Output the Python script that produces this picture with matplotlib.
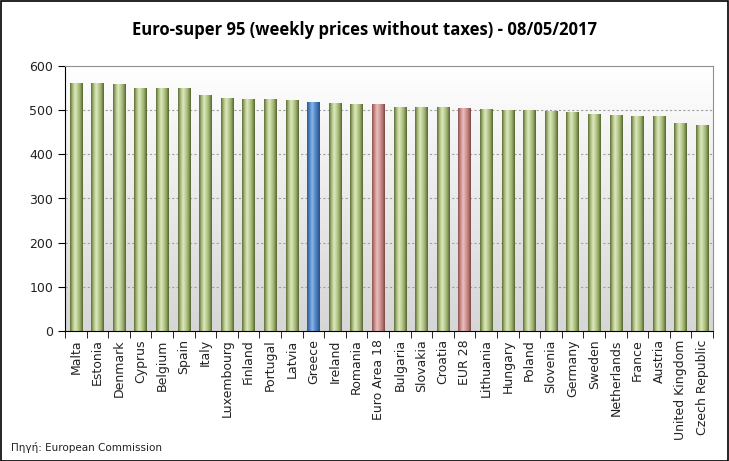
import numpy as np
import matplotlib.pyplot as plt
from matplotlib.colors import LinearSegmentedColormap
from matplotlib.patches import Rectangle

countries = ["Malta", "Estonia", "Denmark", "Cyprus", "Belgium", "Spain", "Italy",
             "Luxembourg", "Finland", "Portugal", "Latvia", "Greece", "Ireland",
             "Romania", "Euro Area 18", "Bulgaria", "Slovakia", "Croatia", "EUR 28",
             "Lithuania", "Hungary", "Poland", "Slovenia", "Germany", "Sweden",
             "Netherlands", "France", "Austria", "United Kingdom", "Czech Republic"]
prices = [561, 561, 559, 550, 550, 548, 534, 527, 524, 524, 522, 518, 514,
          512, 512, 507, 505, 505, 503, 502, 499, 499, 496, 494, 491,
          489, 486, 485, 469, 466]
highlight = {"Greece": "blue", "Euro Area 18": "red", "EUR 28": "red"}

# horizontal shading of the cylinder-like bars
cmaps = {
    "green": LinearSegmentedColormap.from_list("g", ["#5f6e38", "#a9bd7c", "#dde8c0", "#bccd92", "#93a866", "#56642f"]),
    "blue": LinearSegmentedColormap.from_list("b", ["#2c5a92", "#4f84c4", "#8fb6e6", "#5a8fcf", "#3f72b0", "#274f82"]),
    "red": LinearSegmentedColormap.from_list("r", ["#8d5452", "#c98c8a", "#ecc0be", "#d49c9a", "#b67977", "#7c4644"]),
}

W, H = 729, 461
fig = plt.figure(figsize=(W / 100, H / 100), dpi=100)
ax = fig.add_axes([65 / W, (H - 331) / H, (713 - 65) / W, (331 - 66) / H])

n = len(countries)
ax.set_xlim(-0.5, n - 0.5)
ax.set_ylim(0, 600)

# background gradient
bg = LinearSegmentedColormap.from_list("bg", ["#d6d6d6", "#ffffff"])
ax.imshow(np.linspace(0, 1, 256).reshape(-1, 1), cmap=bg, aspect="auto", origin="lower",
          extent=(0, 1, 0, 1), transform=ax.transAxes, zorder=0)

for y in [100, 200, 300, 400, 500]:
    ax.axhline(y, color="#a0a0a0", linewidth=0.8, linestyle=(0, (2, 2)), zorder=1)

grad = np.linspace(0, 1, 64).reshape(1, -1)
bw = 0.58
for i, (c, v) in enumerate(zip(countries, prices)):
    cm = cmaps[highlight.get(c, "green")]
    ax.imshow(grad, cmap=cm, aspect="auto", extent=(i - bw / 2, i + bw / 2, 0, v), zorder=2,
              interpolation="bilinear")

ax.set_xticks(np.arange(n))
ax.set_xticklabels(countries, rotation=90, fontsize=9, color="#222222")
ax.set_xticks(np.arange(n + 1) - 0.5, minor=True)
ax.tick_params(axis="x", which="major", length=0, pad=6)
ax.tick_params(axis="x", which="minor", length=5, direction="out", color="black")
ax.set_yticks(range(0, 601, 100))
ax.tick_params(axis="y", length=5, direction="out", labelsize=9, labelcolor="#222222")

ax.spines["left"].set_color("black")
ax.spines["bottom"].set_color("black")
ax.spines["top"].set_color("#909090")
ax.spines["right"].set_color("#909090")

fig.text(365 / W, 1 - 30 / H, "Euro-super 95 (weekly prices without taxes) - 08/05/2017",
         ha="center", va="center", fontsize=12, fontweight="bold", family="Open Sans")
fig.text(11 / W, 1 - 447 / H, "Πηγή: European Commission", ha="left", va="center",
         fontsize=7.5, color="#222222")

fig.patches.append(Rectangle((0.5 / W, 0.5 / H), 1 - 1.5 / W, 1 - 1.5 / H, transform=fig.transFigure,
                             fill=False, edgecolor="black", linewidth=1.2))

fig.savefig("out.png", dpi=100)
